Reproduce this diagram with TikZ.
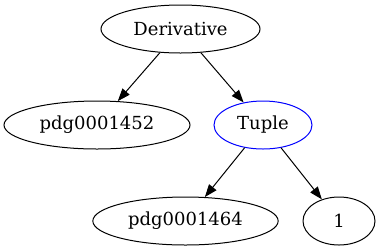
\documentclass[tikz,border=0pt]{standalone}
\usepackage{fontspec}
\setmainfont{DejaVu Serif}
\usetikzlibrary{shapes.geometric,arrows.meta}
\begin{document}
\begin{tikzpicture}[x=0.75pt,y=-0.75pt,
  gnode/.style={ellipse,draw,line width=0.75pt,inner sep=0pt,minimum height=36pt,font=\fontsize{13.5pt}{16pt}\selectfont},
  gedge/.style={line width=0.75pt,-{Triangle[length=9.5pt,width=7pt]}}]
\useasboundingbox (0,0) rectangle (381,251);
\node[gnode,minimum width=119.25pt] (der) at (180.5,29) {Derivative};
\node[gnode,minimum width=139.5pt] (p52) at (97,125) {pdg0001452};
\node[gnode,minimum width=73.5pt,draw={rgb,255:red,0;green,0;blue,255}] (tup) at (263,125) {Tuple};
\node[gnode,minimum width=139pt] (p64) at (185.5,221) {pdg0001464};
\node[gnode,minimum width=54pt] (one) at (339,221) {1};
\draw[gedge] (der) -- (p52);
\draw[gedge] (der) -- (tup);
\draw[gedge] (tup) -- (p64);
\draw[gedge] (tup) -- (one);
\end{tikzpicture}
\end{document}
